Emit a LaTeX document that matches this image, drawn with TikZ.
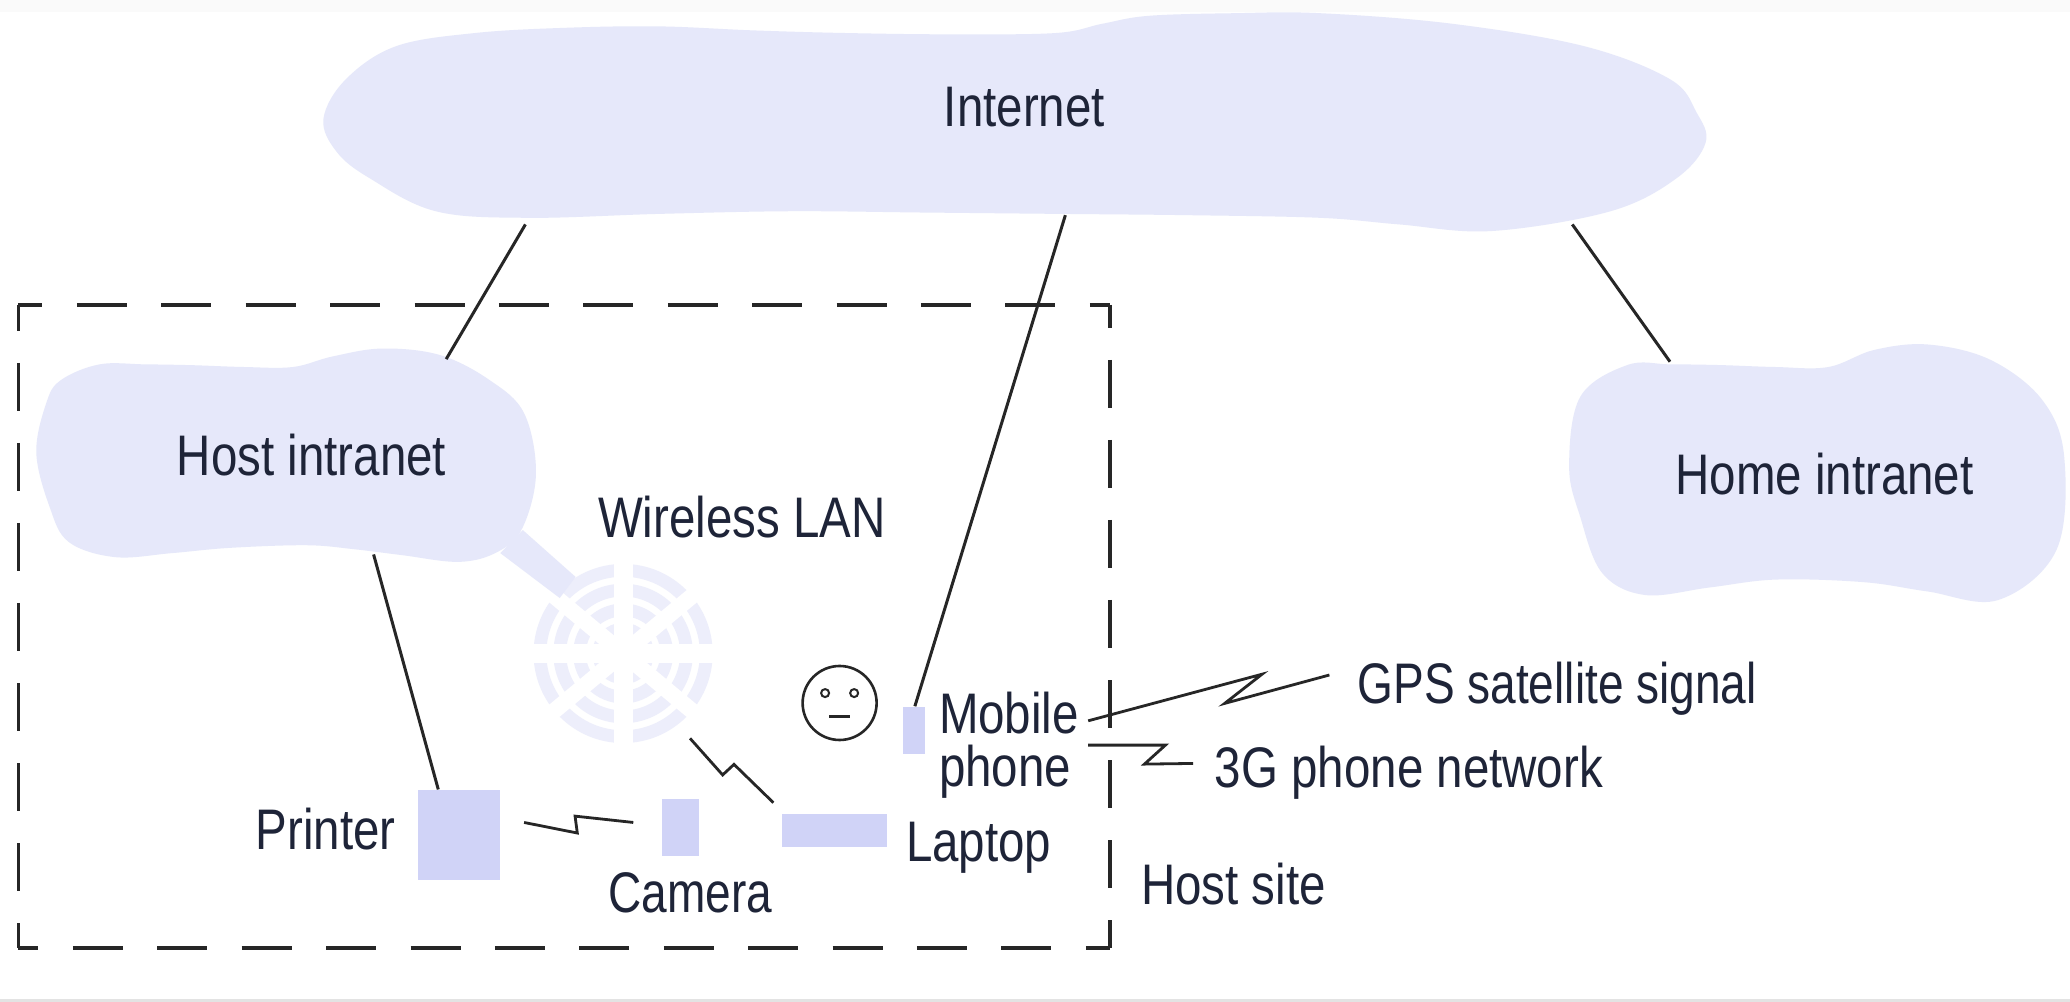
\documentclass[tikz,border=0pt]{standalone}
\usepackage{fontspec}
\newfontfamily\labelfont[FakeStretch=0.83]{Liberation Sans}
\newfontfamily\labelfontb[FakeStretch=0.805]{Liberation Sans}
\definecolor{cloudc}{HTML}{E6E8FA}
\definecolor{ringc}{HTML}{EDEEFB}
\definecolor{devc}{HTML}{D0D3F7}
\definecolor{inkc}{HTML}{1E2438}
\definecolor{linec}{HTML}{262626}
\tikzset{
  cloudshape/.style={fill=cloudc,draw=none},
  lbl/.style={inner sep=0pt,text=inkc,font=\labelfont\fontsize{28.6}{26.4}\selectfont},
  lblb/.style={lbl,font=\labelfontb\fontsize{28.6}{26.4}\selectfont},
  device/.style={fill=devc,draw=none,inner sep=0pt,minimum width=#1},
  wire/.style={draw=linec,line width=1.5pt,line join=miter},
  bolt/.style={draw=linec,line width=1.4pt,line join=miter},
  ringa/.style={draw=ringc,line width=6.4pt},
  ringb/.style={draw=ringc,line width=5pt},
  gap/.style={draw=white,line width=#1},
  site/.style={draw=linec,line width=1.8pt}
}
\begin{document}
\begin{tikzpicture}[x=0.66pt,y=-0.66pt]
\useasboundingbox (0,0) rectangle (1568,759);
\fill[white] (0,0) rectangle (1568,759);
\fill[black!2] (0,0) rectangle (1568,9);
\fill[black!11] (0,756.5) rectangle (1568,759);
% clouds
\fill[cloudshape] plot[smooth cycle,tension=0.6] coordinates {
 (245,90)(262,60)(300,35)(360,25)(430,21)(500,20)(570,23)(640,25)(720,26)(800,25)(835,18)(870,12)(935,10)(1000,10)(1100,18)(1200,35)(1265,60)(1285,85)(1292,108)(1270,135)(1220,160)(1130,175)(1060,170)(1000,165)(900,163)(800,162)(700,161)(600,160)(500,162)(400,165)(330,160)(280,135)(255,115)};
\fill[cloudshape] plot[smooth cycle,tension=0.6] coordinates {
 (35,305.5)(46,288)(75.4,276)(110,276)(145,276.6)(185,278)(222,278)(252,270)(290,264)(333.5,269)(371,288)(397,313)(406,358.6)(395.7,400)(377,418)(348,425.6)(304.5,420.5)(268,416)(232,413)(174,415)(130,419)(87,422)(52,410.5)(37.6,384)(27.5,343)};
\fill[cloudshape] plot[smooth cycle,tension=0.6] coordinates {
 (1188.6,353.5)(1197,300.6)(1232.7,276.5)(1265,276)(1301.6,276.5)(1345,278)(1385,278)(1420,265)(1461,261)(1508,272.7)(1547,303)(1563.6,346)(1557.7,416.7)(1513.6,454.5)(1460,448)(1412,441)(1345.6,439)(1295,445)(1246,450.7)(1213.6,434)(1197,391.5)};
% wireless LAN rings
\coordinate (wifi) at (472,495);
\foreach \r in {63,48,33}
  \draw[ringa] (wifi) circle[radius=\r];
\draw[ringb] (wifi) circle[radius=19.5];
\draw[gap=9.6pt] (472,420) -- (472,570);
\draw[gap=9.6pt] (397,495) -- (547,495);
\draw[gap=8pt] (412,445) -- (532,545);
\draw[gap=8pt] (412,545) -- (532,445);
\fill[cloudshape] (379,419) -- (396,401.5) -- (436,437) -- (424,453) -- cycle;
% dashed host site
\coordinate (siteA) at (14,231);
\coordinate (siteB) at (841,231);
\coordinate (siteC) at (841,718);
\coordinate (siteD) at (14,718);
\draw[site,dash pattern=on 25pt off 17.2pt,dash phase=13pt] (siteA) -- (siteB);
\draw[site,dash pattern=on 25pt off 17.2pt,dash phase=15pt] (siteD) -- (siteC);
\draw[site,dash pattern=on 23.8pt off 16.2pt,dash phase=11pt] (siteA) -- (siteD);
\draw[site,dash pattern=on 23.8pt off 16.2pt,dash phase=12.5pt] (siteB) -- (siteC);
% devices
\node[device=41pt,minimum height=44.9pt,anchor=north west] (printer) at (316,598) {};
\node[device=18.7pt,minimum height=28.4pt,anchor=north west] (camera) at (501,605) {};
\node[device=52.5pt,minimum height=16.9pt,anchor=north west] (laptop) at (592,616) {};
\node[device=10.8pt,minimum height=23.5pt,anchor=north west] (phone) at (684,535.5) {};
% face
\node[draw=linec,line width=1.3pt,circle,minimum size=37pt,inner sep=0pt] (face) at (636,532.5) {};
\node[draw=linec,line width=1pt,circle,minimum size=4pt,inner sep=0pt] (eyeL) at (625,525) {};
\node[draw=linec,line width=1pt,circle,minimum size=4pt,inner sep=0pt] (eyeR) at (647,525) {};
\coordinate (mouthL) at (628,543);
\coordinate (mouthR) at (644,543);
\draw[bolt] (mouthL) -- (mouthR);
% connector ends
\coordinate (inetA) at (398,170);
\coordinate (inetB) at (807,163);
\coordinate (inetC) at (1191,170);
\coordinate (hostN) at (338,272);
\coordinate (hostS) at (283,420);
\coordinate (homeN) at (1265,274);
\coordinate (printerN) at (332,598);
\coordinate (phoneN) at (693,535);
\draw[wire] (inetA) -- (hostN);
\draw[wire] (inetB) -- (phoneN);
\draw[wire] (inetC) -- (homeN);
\draw[wire] (hostS) -- (printerN);
% lightning connectors
\coordinate (bPrinter) at (397,623);
\coordinate (bCamera) at (479.7,623);
\coordinate (bWifi) at (522.7,559.3);
\coordinate (bLaptop) at (585.8,608);
\coordinate (bMob1) at (824.3,546);
\coordinate (bGps) at (1007,511.3);
\coordinate (bMob2) at (824.3,564.4);
\coordinate (b3g) at (903.7,578.3);
\draw[bolt] (bPrinter) -- (437.3,631) -- (435.6,618.2) -- (bCamera);
\draw[bolt] (bWifi) -- (547.4,587) -- (556,579) -- (bLaptop);
\draw[bolt] (bMob1) -- (956,510.7) -- (927.7,532.8) -- (bGps);
\draw[bolt] (bMob2) -- (882.8,564.4) -- (866.9,578.8) -- (b3g);
% labels
\node[lbl] (tInternet) at (776,81) {Internet};
\node[lbl] (tHost) at (236,345) {Host intranet};
\node[lbl] (tHome) at (1382,359) {Home intranet};
\node[lbl] (tLan) at (562,392) {Wireless LAN};
\node[lbl,align=left,anchor=west] (tMobile) at (711,564.5) {Mobile\\phone};
\node[lblb,anchor=west] (tGps) at (1028,522) {GPS satellite signal};
\node[lbl,anchor=west] (t3g) at (920,585) {3G phone network};
\node[lbl,anchor=east] (tPrinter) at (300,628) {Printer};
\node[lblb] (tCamera) at (523,676) {Camera};
\node[lbl,anchor=west] (tLaptop) at (686,642) {Laptop};
\node[lbl,anchor=west] (tSite) at (864,670) {Host site};
\end{tikzpicture}
\end{document}
